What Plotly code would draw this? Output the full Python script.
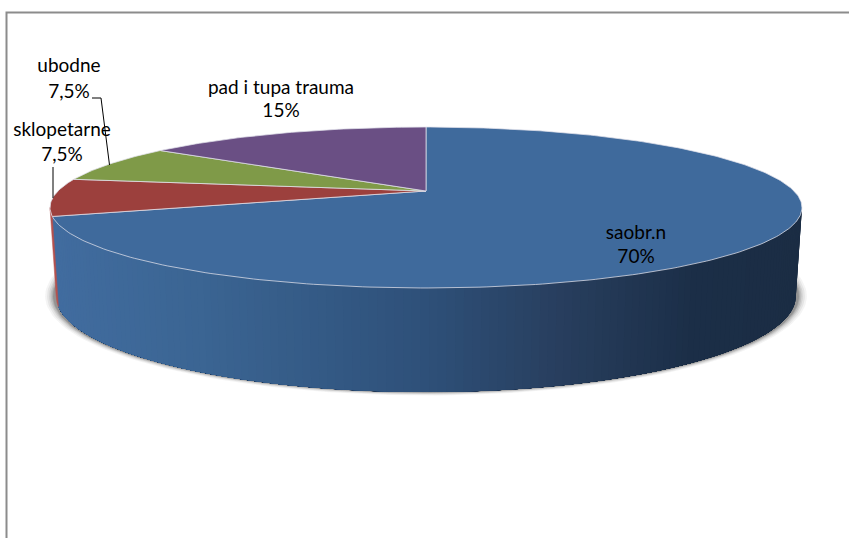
import numpy as np
import plotly.graph_objects as go

# ---- data ----
categories = ["saobr.n", "sklopetarne", "ubodne", "pad i tupa trauma"]
values = [70, 7.5, 7.5, 15]
value_labels = ["70%", "7,5%", "7,5%", "15%"]

# ---- style ----
slice_colors = ["#3f6a9c", "#9c403d", "#7f9a48", "#6a4f84"]
side_stops_x = [55, 200, 430, 560, 700, 800]
side_stops_rgb = [(65, 108, 159), (59, 101, 147), (46, 80, 121),
                  (40, 63, 95), (27, 46, 71), (27, 45, 68)]
red_side = "#b5524f"
W, H = 849, 538
label_name_xy = [(636, 234), (62, 131), (69, 67), (281, 89)]
label_val_xy = [(636, 258), (62, 156), (69, 93), (281, 112)]

# projected pie geometry (perspective circle)
K = 0.205
TOP = dict(cx=426, y0=191, a=77.1, b=368.0)
BOT = dict(cx=426, y0=276.3, a=92.0, b=362.0)


def project(theta_deg, g):
    t = np.radians(theta_deg)
    u, v = np.sin(t), np.cos(t)
    d = 1 + K * v
    return g["cx"] + g["b"] * u / d, g["y0"] - g["a"] * v / d


def side_color(x):
    r = [np.interp(x, side_stops_x, [c[i] for c in side_stops_rgb]) for i in range(3)]
    return "rgb(%d,%d,%d)" % tuple(int(round(c)) for c in r)


fig = go.Figure()

# soft shadow under the pie
for grow, alpha in [(9, 0.06), (7, 0.08), (5, 0.11), (3.5, 0.14), (2, 0.18), (1, 0.22)]:
    th = np.linspace(0, 360, 241)
    x, y = project(th, BOT)
    cy = BOT["y0"] + BOT["a"] * K / (1 - K ** 2)
    sx = 426 + (x - 426) * (1 + (grow + 2) / 370)
    sy = cy + (y - cy) * (1 + (grow * 0.38) / 96)
    fig.add_trace(go.Scatter(x=sx, y=sy, mode="lines", fill="toself",
                             fillcolor=f"rgba(70,70,70,{alpha})",
                             line=dict(width=0), hoverinfo="skip"))

# cumulative angles from the values
total = sum(values)
edges = np.concatenate([[0], np.cumsum(values)]) / total * 360

# blue side wall: painted from the right, each layer covering the rest,
# so the gradient has no seams
wall_start = 101.8
wall_end = edges[1]
for t0 in np.linspace(wall_start, wall_end, 140)[:-1]:
    th = np.linspace(t0, wall_end, 90)
    xt, yt = project(th, TOP)
    xb, yb = project(th[::-1], BOT)
    xs = np.concatenate([xt, xb, xt[:1]])
    ys = np.concatenate([yt, yb, yt[:1]])
    col = side_color(float(xt[0]))
    fig.add_trace(go.Scatter(x=xs, y=ys, mode="lines", fill="toself", fillcolor=col,
                             line=dict(width=0), hoverinfo="skip"))

# thin red wall at the left silhouette
th = np.linspace(edges[1], 258.2, 6)
xt, yt = project(th, TOP)
xb, yb = project(th[::-1], BOT)
fig.add_trace(go.Scatter(x=np.concatenate([xt, xb, xt[:1]]), y=np.concatenate([yt, yb, yt[:1]]),
                         mode="lines", fill="toself", fillcolor=red_side,
                         line=dict(width=0.5, color=red_side), hoverinfo="skip"))

# top slices
for i in range(len(values)):
    th = np.linspace(edges[i], edges[i + 1], max(8, int(values[i] * 4)))
    x, y = project(th, TOP)
    fig.add_trace(go.Scatter(
        x=np.concatenate([[TOP["cx"]], x, [TOP["cx"]]]),
        y=np.concatenate([[TOP["y0"]], y, [TOP["y0"]]]),
        mode="lines", fill="toself", fillcolor=slice_colors[i],
        line=dict(width=1, color="rgba(225,225,235,0.75)"),
        name=categories[i], hoverinfo="skip"))

# leader lines
fig.add_trace(go.Scatter(x=[92, 101, 109.5], y=[98, 98, 165], mode="lines",
                         line=dict(color="black", width=1), hoverinfo="skip"))
fig.add_trace(go.Scatter(x=[53, 53], y=[167, 198], mode="lines",
                         line=dict(color="black", width=1), hoverinfo="skip"))

# labels
fig.add_trace(go.Scatter(x=[p[0] for p in label_name_xy], y=[p[1] for p in label_name_xy],
                         text=categories, mode="text", textposition="middle center",
                         textfont=dict(family="Lato", size=19, color="black"), hoverinfo="skip"))
fig.add_trace(go.Scatter(x=[p[0] for p in label_val_xy], y=[p[1] for p in label_val_xy],
                         text=value_labels, mode="text", textposition="middle center",
                         textfont=dict(family="Lato", size=19, color="black"), hoverinfo="skip"))

fig.update_layout(
    width=W, height=H, autosize=False, showlegend=False,
    margin=dict(l=0, r=0, t=0, b=0),
    paper_bgcolor="white", plot_bgcolor="white",
    xaxis=dict(range=[0, W], visible=False, fixedrange=True),
    yaxis=dict(range=[H, 0], visible=False, fixedrange=True),
    shapes=[dict(type="path", path=f"M 6.5 {H+5} L 6.5 12.5 L {W+5} 12.5",
                 line=dict(color="#8c8c8c", width=2))],
)
fig.write_html("out.html", config={"displayModeBar": False},
               post_script="document.body.style.margin='0';document.body.style.overflow='hidden';")
